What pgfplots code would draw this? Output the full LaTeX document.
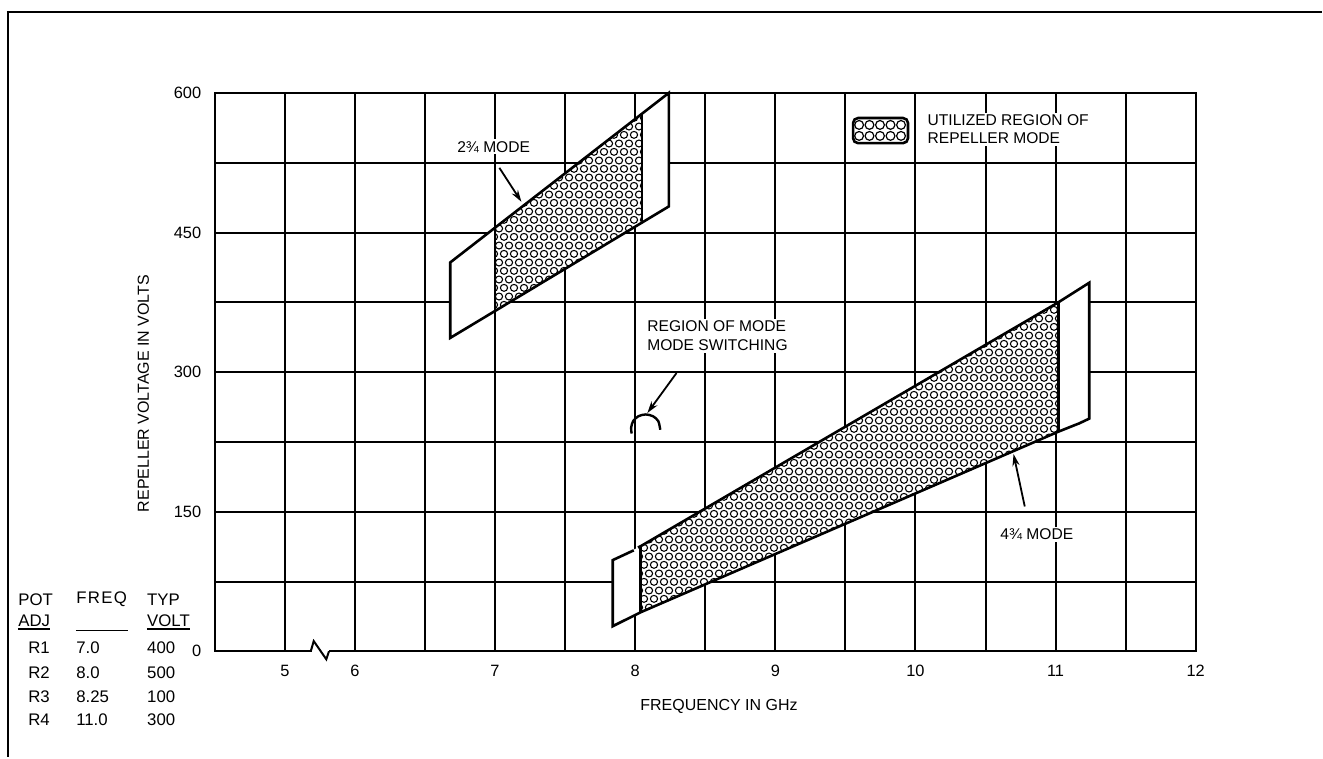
\documentclass[border=0pt]{standalone}
\usepackage{fontspec}
\setmainfont{Liberation Sans}
\usepackage{pgfplots}
\pgfplotsset{compat=1.18}
\usetikzlibrary{patterns,arrows.meta}

\pgfdeclarepatternformonly{hexcircles}{\pgfqpoint{0pt}{0pt}}{\pgfqpoint{5pt}{8.66pt}}{\pgfqpoint{5pt}{8.66pt}}{%
  \pgfsetlinewidth{0.55pt}%
  \pgfpathcircle{\pgfqpoint{2.5pt}{2.165pt}}{1.8pt}%
  \pgfpathcircle{\pgfqpoint{0pt}{6.495pt}}{1.8pt}%
  \pgfpathcircle{\pgfqpoint{5pt}{6.495pt}}{1.8pt}%
  \pgfusepath{stroke}%
}

\newcommand{\lbl}{\fontsize{7.8pt}{9.2pt}\selectfont}
\newcommand{\tbl}{\fontsize{8.4pt}{10pt}\selectfont}

\begin{document}
\begin{tikzpicture}
\path (0pt,0pt) rectangle (661.5pt,379pt);
% outer frame
\draw[line width=1.4pt] (3.5pt,373pt) -- (661.5pt,373pt);
\draw[line width=1pt] (4pt,373.6pt) -- (4pt,0pt);

% pot adjustment table
\node[anchor=west, inner sep=0pt, font=\tbl] at (9pt,79pt) {POT};
\node[anchor=west, inner sep=0pt, font=\tbl] at (38pt,79pt) {\addfontfeature{LetterSpace=8}FREQ};
\node[anchor=west, inner sep=0pt, font=\tbl] at (73.5pt,79pt) {TYP};
\node[anchor=west, inner sep=0pt, font=\tbl] at (9pt,68.5pt) {ADJ};
\node[anchor=west, inner sep=0pt, font=\tbl] at (73.5pt,68.5pt) {VOLT};
\draw[line width=0.8pt] (9pt,64.2pt) -- (25pt,64.2pt);
\draw[line width=0.8pt] (38pt,63.4pt) -- (64pt,63.4pt);
\draw[line width=0.8pt] (73.5pt,64.2pt) -- (95pt,64.2pt);
\node[anchor=west, inner sep=0pt, font=\tbl] at (14pt,55pt) {R1};
\node[anchor=west, inner sep=0pt, font=\tbl] at (38pt,55pt) {7.0};
\node[anchor=west, inner sep=0pt, font=\tbl] at (73.5pt,55pt) {400};
\node[anchor=west, inner sep=0pt, font=\tbl] at (14pt,42.5pt) {R2};
\node[anchor=west, inner sep=0pt, font=\tbl] at (38pt,42.5pt) {8.0};
\node[anchor=west, inner sep=0pt, font=\tbl] at (73.5pt,42.5pt) {500};
\node[anchor=west, inner sep=0pt, font=\tbl] at (14pt,30.5pt) {R3};
\node[anchor=west, inner sep=0pt, font=\tbl] at (38pt,30.5pt) {8.25};
\node[anchor=west, inner sep=0pt, font=\tbl] at (73.5pt,30.5pt) {100};
\node[anchor=west, inner sep=0pt, font=\tbl] at (14pt,19pt) {R4};
\node[anchor=west, inner sep=0pt, font=\tbl] at (38pt,19pt) {11.0};
\node[anchor=west, inner sep=0pt, font=\tbl] at (73.5pt,19pt) {300};

\begin{axis}[
  set layers,
  at={(107.5pt,53pt)}, anchor=south west,
  width=491pt, height=279.5pt, scale only axis,
  xmin=5, xmax=12, ymin=0, ymax=600,
  clip=false,
  xtick={5,5.5,6,6.5,7,7.5,8,8.5,9,9.5,10,10.5,11,11.5,12},
  xticklabels={,5,6,,7,,8,,9,,10,,11,,12},
  ytick={0,75,150,225,300,375,450,525,600},
  yticklabels={0,,150,,300,,450,,600},
  grid=major,
  major grid style={black, line width=1pt},
  axis line style={black, line width=1.1pt},
  major tick length=0pt,
  tick label style={font=\fontsize{8.2pt}{9pt}\selectfont},
  /pgf/number format/assume math mode=true,
  xticklabel style={yshift=-3.5pt},
  yticklabel style={xshift=-3.3pt},
  xlabel={FREQUENCY IN GHz},
  ylabel={REPELLER VOLTAGE IN VOLTS},
  label style={font=\fontsize{8pt}{9pt}\selectfont},
  xlabel style={at={(axis description cs:0.514,-0.0984)}, anchor=center},
  ylabel style={at={(axis description cs:-0.0728,0.4615)}, anchor=center},
]
% ---- 2 3/4 mode (upper)
\addplot[draw=black, fill=white, line width=1.3pt, line join=miter] coordinates {(6.68,336.7) (6.68,417.8) (8.24,600) (8.24,478)} -- cycle;
\addplot[draw=none, pattern=hexcircles] coordinates {(7.0,365.3) (7.0,454.7) (8.05,578) (8.05,461.9)} -- cycle;
\addplot[black, line width=1.3pt] coordinates {(7.0,365.3) (7.0,454.7)};
\addplot[black, line width=1.3pt] coordinates {(8.05,461.9) (8.05,578)};

% ---- 4 3/4 mode (lower)
\addplot[draw=none, fill=white] coordinates {(7.84,27) (7.84,98) (8.04,113) (11.02,375) (11.24,396) (11.24,250) (11.17,245) (11.02,236) (8.04,42)} -- cycle;
\addplot[draw=none, pattern=hexcircles] coordinates {(8.04,42) (8.04,113) (11.02,375) (11.02,236)} -- cycle;
\addplot[black, line width=1.3pt, line join=miter] coordinates {(8.02,111.5) (8.04,113) (11.02,375) (11.24,396) (11.24,250) (11.17,245) (11.02,236) (8.04,42) (7.84,27) (7.84,98) (7.99,108.5)};
\addplot[black, line width=1.3pt] coordinates {(8.04,42) (8.04,113)};
\addplot[black, line width=1.3pt] coordinates {(11.02,236) (11.02,375)};

% ---- region of mode switching
\addplot[black, line width=1.2pt, smooth] coordinates {(7.975,234) (7.971,240) (7.985,247.3) (8.023,252.6) (8.075,254.5) (8.127,252.6) (8.165,247.3) (8.179,238)};
\addplot[black, line width=0.9pt, -{Stealth[length=6pt,width=3.6pt]}] coordinates {(8.295,299) (8.087,256)};
\node[anchor=west, fill=white, inner sep=1pt, align=left, font=\lbl] at (axis cs:8.07,339) {REGION OF MODE\\MODE SWITCHING};

% ---- mode labels
\node[fill=white, inner sep=1pt, font=\lbl] at (axis cs:6.99,542) {2¾ MODE};
\addplot[black, line width=0.9pt, -{Stealth[length=6pt,width=3.6pt]}] coordinates {(7.031,519.5) (7.188,483)};
\node[fill=white, inner sep=1pt, font=\lbl] at (axis cs:10.866,125.6) {4¾ MODE};
\addplot[black, line width=0.9pt, -{Stealth[length=6pt,width=3.6pt]}] coordinates {(10.78,155.6) (10.70,212)};

% ---- legend
\draw[line width=1.3pt, rounded corners=2.5pt, fill=white] (axis cs:9.555,546) rectangle (axis cs:9.947,573);
\addplot[only marks, mark=o, mark size=2.2pt, mark options={line width=0.6pt, black}] coordinates {
(9.598,565.6) (9.672,565.6) (9.747,565.6) (9.822,565.6) (9.897,565.6)
(9.598,553.8) (9.672,553.8) (9.747,553.8) (9.822,553.8) (9.897,553.8)};
\node[anchor=west, fill=white, inner sep=1pt, align=left, font=\lbl] at (axis cs:10.07,560.8) {UTILIZED REGION OF\\REPELLER MODE};

% ---- axis break symbol
\draw[white, line width=2.8pt] (axis cs:5.692,0) -- (axis cs:5.812,0);
\addplot[black, line width=1pt] coordinates {(5.685,0) (5.706,11) (5.796,-8.6) (5.815,0)};
\end{axis}
\end{tikzpicture}
\end{document}
